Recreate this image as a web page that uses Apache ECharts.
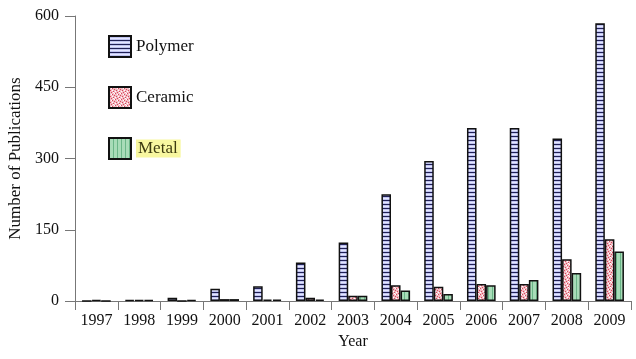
<!DOCTYPE html>
<html>
<head>
<meta charset="utf-8">
<script src="https://cdn.jsdelivr.net/npm/echarts@6/dist/echarts.min.js"></script>
<style>html,body{margin:0;padding:0;background:#fff}#c{width:636px;height:359px}</style>
</head>
<body>
<div id="c"></div>
<script>
var years = ['1997','1998','1999','2000','2001','2002','2003','2004','2005','2006','2007','2008','2009'];
var polymer = [0, 2, 7, 26, 31, 81, 123, 225, 295, 364, 364, 342, 585];
var ceramic = [2, 2, 0, 4, 3, 7, 11, 33, 30, 36, 36, 88, 130];
var metal   = [0, 2, 2, 4, 3, 3, 11, 22, 15, 33, 44, 59, 104];
var yTicks = [0, 150, 300, 450, 600];

function makePattern(kind) {
  var c = document.createElement('canvas');
  var ctx = c.getContext('2d');
  if (kind === 'polymer') {
    c.width = 4; c.height = 4;
    ctx.fillStyle = '#bfc3f0'; ctx.fillRect(0, 0, 4, 4);
    ctx.fillStyle = '#e4e6ff'; ctx.fillRect(0, 2, 4, 1);
    ctx.fillStyle = '#202055'; ctx.fillRect(0, 0, 4, 1);
  } else if (kind === 'metal') {
    c.width = 4; c.height = 4;
    ctx.fillStyle = '#a8dcb8'; ctx.fillRect(0, 0, 4, 4);
    ctx.fillStyle = '#6bb688'; ctx.fillRect(0, 0, 1, 4);
  } else {
    c.width = 6; c.height = 6;
    ctx.fillStyle = '#f3bcc4'; ctx.fillRect(0, 0, 6, 6);
    ctx.fillStyle = '#d9495c';
    [[0,0],[3,1],[1,3],[4,4],[5,2],[2,5]].forEach(function (p) { ctx.fillRect(p[0], p[1], 1, 1); });
    ctx.fillStyle = '#ffffff';
    [[2,1],[5,0],[0,4],[3,3],[4,5]].forEach(function (p) { ctx.fillRect(p[0], p[1], 1, 1); });
  }
  return { image: c, repeat: 'repeat' };
}

var font = '"Liberation Serif", "DejaVu Serif", serif';
var chart = echarts.init(document.getElementById('c'), null, { renderer: 'canvas' });

function barSeries(name, data, kind) {
  return {
    name: name,
    type: 'bar',
    data: data,
    barGap: '0%',
    barCategoryGap: '33%',
    itemStyle: { color: makePattern(kind), borderColor: '#111', borderWidth: 1.5 },
    emphasis: { disabled: true }
  };
}

chart.setOption({
  backgroundColor: '#ffffff',
  animation: false,
  grid: { left: 75, right: 5, top: 16, bottom: 58, outerBoundsMode: 'none', containLabel: false },
  legend: {
    orient: 'vertical',
    left: 108,
    top: 35,
    padding: 0,
    itemWidth: 22,
    itemHeight: 21,
    itemGap: 28,
    icon: 'rect',
    selectedMode: false,
    textStyle: {
      fontFamily: font, fontSize: 17, color: '#111',
      rich: { hl: { fontFamily: font, fontSize: 17, color: '#3c3a10', backgroundColor: '#f8f7a0', padding: [1, 3, 0, 2] } }
    },
    formatter: function (n) { return n === 'Metal' ? '{hl|Metal}' : n; },
    data: ['Polymer', 'Ceramic', 'Metal']
  },
  xAxis: {
    type: 'category',
    data: years,
    name: 'Year',
    nameLocation: 'middle',
    nameGap: 28,
    nameTextStyle: { fontFamily: font, fontSize: 16, color: '#111' },
    axisLine: { lineStyle: { color: '#777', width: 1 } },
    axisTick: { show: true, length: 9, lineStyle: { color: '#777' }, alignWithLabel: false },
    axisLabel: { fontFamily: font, fontSize: 16, color: '#111', margin: 12 }
  },
  yAxis: {
    type: 'value',
    min: yTicks[0],
    max: yTicks[yTicks.length - 1],
    interval: yTicks[1] - yTicks[0],
    name: 'Number of Publications',
    nameLocation: 'middle',
    nameGap: 49,
    nameTextStyle: { fontFamily: font, fontSize: 17, color: '#111' },
    axisLine: { show: true, lineStyle: { color: '#777', width: 1 } },
    axisTick: { show: true, length: 10, lineStyle: { color: '#777' } },
    axisLabel: { fontFamily: font, fontSize: 16, color: '#111', margin: 16 },
    splitLine: { show: false }
  },
  series: [
    barSeries('Polymer', polymer, 'polymer'),
    barSeries('Ceramic', ceramic, 'ceramic'),
    barSeries('Metal', metal, 'metal')
  ]
});
</script>
</body>
</html>
